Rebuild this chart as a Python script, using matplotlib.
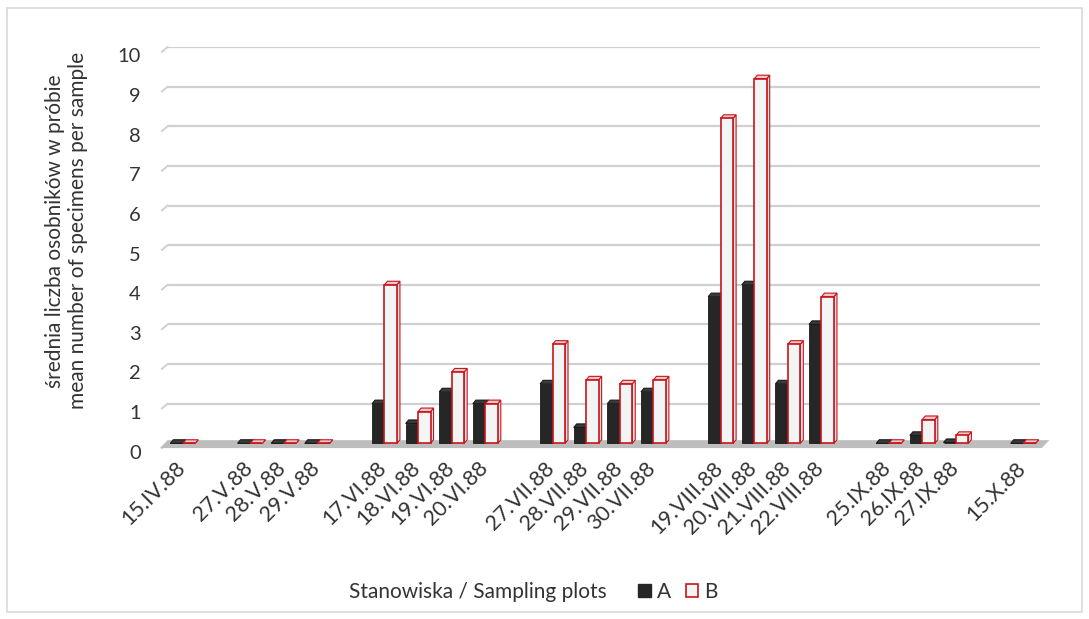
import matplotlib.pyplot as plt
import matplotlib.transforms as mtransforms
from matplotlib.patches import Polygon, Patch, Rectangle

# categories (empty strings are the blank spacer slots of the original chart)
dates = ["15.IV.88", "", "27.V.88", "28.V.88", "29.V.88", "",
         "17.VI.88", "18.VI.88", "19.VI.88", "20.VI.88", "",
         "27.VII.88", "28.VII.88", "29.VII.88", "30.VII.88", "",
         "19.VIII.88", "20.VIII.88", "21.VIII.88", "22.VIII.88", "",
         "25.IX.88", "26.IX.88", "27.IX.88", "", "15.X.88"]
site_a = [0, None, 0, 0, 0, None,
          1.0, 0.5, 1.3, 1.0, None,
          1.5, 0.4, 1.0, 1.3, None,
          3.7, 4.0, 1.5, 3.0, None,
          0, 0.2, 0.02, None, 0]
site_b = [0, None, 0, 0, 0, None,
          4.0, 0.8, 1.8, 1.0, None,
          2.5, 1.6, 1.5, 1.6, None,
          8.2, 9.2, 2.5, 3.7, None,
          0, 0.6, 0.2, None, 0]

FONT = ["Lato", "DejaVu Sans"]
plt.rcParams['font.family'] = FONT

BLACK = "#262626"
RED = "#C8141C"
LIGHT = "#F3F5F5"
GRID = "#D0D0D0"
FLOOR = "#BDBDBD"
TXT = "#333333"

fig = plt.figure(figsize=(10.89, 6.19), dpi=100)
ax = fig.add_axes([0.1524, 0.271, 0.8026, 0.653])
n = len(dates)
ax.set_xlim(-0.5, n - 0.5)
ax.set_ylim(-0.2, 10)
for s in ax.spines.values():
    s.set_visible(False)

# frame round the whole picture
fig.add_artist(Rectangle((0.006, 0.012), 0.988, 0.975, transform=fig.transFigure,
                         fill=False, edgecolor="#D9D9D9", lw=1.2))

# back wall gridlines with the small 3D slant at the left
for v in range(0, 11):
    ax.plot([-0.45, n - 0.3], [v, v], color=GRID, lw=1.6, zorder=1, solid_capstyle='butt')
    ax.plot([-0.62, -0.45], [v - 0.12, v], color=GRID, lw=1.4, zorder=1, clip_on=False)

# floor band
ax.add_patch(Polygon([(-0.68, -0.12), (n - 0.45, -0.12), (n - 0.22, 0.08), (-0.45, 0.08)],
                     closed=True, facecolor=FLOOR, edgecolor="none", zorder=1.5, clip_on=False))

w = 0.37
dx, dy = 0.09, 0.09
xs = list(range(n))
xa = [x - w / 2 for x, v in zip(xs, site_a) if v is not None]
va = [v for v in site_a if v is not None]
xb = [x + w / 2 for x, v in zip(xs, site_b) if v is not None]
vb = [v for v in site_b if v is not None]


def faces(xc, h, side, top, edge, z):
    x0 = xc - w / 2
    x1 = xc + w / 2
    ax.add_patch(Polygon([(x1, 0), (x1 + dx, dy), (x1 + dx, h + dy), (x1, h)],
                         facecolor=side, edgecolor=edge, lw=0.8, zorder=z, clip_on=False))
    ax.add_patch(Polygon([(x0, h), (x0 + dx, h + dy), (x1 + dx, h + dy), (x1, h)],
                         facecolor=top, edgecolor=edge, lw=0.8, zorder=z, clip_on=False))


for x, v in zip(xa, va):
    faces(x, v, "#111111", "#3a3a3a", "#1a1a1a", 2)
ax.bar(xa, va, width=w, color=BLACK, edgecolor="#1a1a1a", lw=0.6, zorder=2.1)
for x, v in zip(xb, vb):
    faces(x, v, "#E4E6E6", "#F0C8C8", RED, 3)
ax.bar(xb, vb, width=w, color=LIGHT, edgecolor=RED, lw=1.2, zorder=3.1)

ax.set_yticks(range(0, 11))
ax.tick_params(axis='y', length=0, pad=18, labelsize=14.5, labelcolor=TXT)
off = mtransforms.ScaledTranslation(0, -6 / 72, fig.dpi_scale_trans)
for lab in ax.get_yticklabels():
    lab.set_transform(lab.get_transform() + off)

ax.set_xticks(xs)
ax.set_xticklabels(dates, rotation=45, ha='right', va='top', rotation_mode='anchor')
ax.tick_params(axis='x', length=0, pad=12, labelsize=15.5, labelcolor=TXT)
offx = mtransforms.ScaledTranslation(-0.08, 0.1, fig.dpi_scale_trans)
for lab in ax.get_xticklabels():
    lab.set_transform(lab.get_transform() + offx)

fig.text(0.061, 0.627, "średnia liczba osobników w próbie\nmean number of specimens per sample",
         rotation=90, ha='center', va='center', fontsize=15, color=TXT, linespacing=1.2)

fig.text(0.439, 0.044, "Stanowiska / Sampling plots", ha='center', va='center',
         fontsize=15, color=TXT)
handles = [Patch(facecolor=BLACK, edgecolor=BLACK, label="A"),
           Patch(facecolor=LIGHT, edgecolor=RED, lw=1.2, label="B")]
fig.legend(handles=handles, loc='center left', bbox_to_anchor=(0.569, 0.044), ncol=2,
           frameon=False, fontsize=15, handlelength=0.6, handleheight=0.6,
           handletextpad=0.3, columnspacing=0.7, labelcolor=TXT)

fig.savefig("out.png", dpi=100, facecolor="white")
